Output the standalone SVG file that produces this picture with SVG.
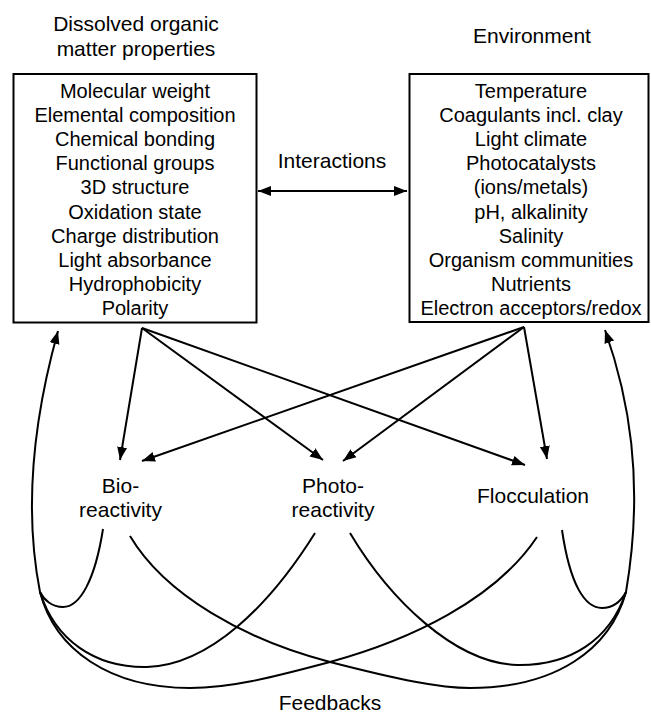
<svg xmlns="http://www.w3.org/2000/svg" width="651" height="713" viewBox="0 0 651 713">
<style>
text{font-family:"Liberation Sans",Arial,sans-serif;fill:#000;text-anchor:middle}
.bt{font-size:20px}
.lb{font-size:21px}
.box{fill:#fff;stroke:#000;stroke-width:2}
.ln{fill:none;stroke:#000;stroke-width:2}
</style>
<defs>
<marker id="ah" markerUnits="userSpaceOnUse" markerWidth="14" markerHeight="12" refX="13" refY="5" orient="auto-start-reverse" viewBox="0 0 14 10">
<path d="M0,0 L13,5 L0,10 z" fill="#000"/>
</marker>
</defs>
<rect width="651" height="713" fill="#fff"/>
<g id="dom">
<text class="lb" x="136" y="31">Dissolved organic</text>
<text class="lb" x="136" y="56">matter properties</text>
<rect class="box" x="13.5" y="74" width="243" height="248.5"/>
<text class="bt" x="135" y="98">Molecular weight</text>
<text class="bt" x="135" y="122">Elemental composition</text>
<text class="bt" x="135" y="146">Chemical bonding</text>
<text class="bt" x="135" y="170">Functional groups</text>
<text class="bt" x="135" y="194">3D structure</text>
<text class="bt" x="135" y="218.5">Oxidation state</text>
<text class="bt" x="135" y="243">Charge distribution</text>
<text class="bt" x="135" y="267">Light absorbance</text>
<text class="bt" x="135" y="291">Hydrophobicity</text>
<text class="bt" x="135" y="315">Polarity</text>
</g>
<g id="env">
<text class="lb" x="532" y="43">Environment</text>
<rect class="box" x="409.5" y="74" width="239" height="248"/>
<text class="bt" x="531" y="98">Temperature</text>
<text class="bt" x="531" y="122">Coagulants incl. clay</text>
<text class="bt" x="531" y="146">Light climate</text>
<text class="bt" x="531" y="170">Photocatalysts</text>
<text class="bt" x="531" y="194">(ions/metals)</text>
<text class="bt" x="531" y="218.5">pH, alkalinity</text>
<text class="bt" x="531" y="243">Salinity</text>
<text class="bt" x="531" y="267">Organism communities</text>
<text class="bt" x="531" y="291">Nutrients</text>
<text class="bt" x="531" y="315">Electron acceptors/redox</text>
</g>
<g id="interactions">
<text class="lb" x="332" y="168">Interactions</text>
</g>
<g id="bio">
<text class="lb" x="120.5" y="493">Bio-</text>
<text class="lb" x="120.5" y="517">reactivity</text>
</g>
<g id="photo">
<text class="lb" x="333" y="493">Photo-</text>
<text class="lb" x="333" y="517">reactivity</text>
</g>
<g id="flocc">
<text class="lb" x="533" y="503">Flocculation</text>
</g>
<g id="feedbacks">
<text class="lb" x="330" y="710">Feedbacks</text>
</g>
<g id="connectors">
<line class="ln" x1="258" y1="191" x2="407" y2="191" marker-start="url(#ah)" marker-end="url(#ah)"/>
<line class="ln" x1="142" y1="328" x2="120" y2="460" marker-end="url(#ah)"/>
<line class="ln" x1="142" y1="328" x2="323" y2="460" marker-end="url(#ah)"/>
<line class="ln" x1="142" y1="328" x2="525" y2="465" marker-end="url(#ah)"/>
<line class="ln" x1="524" y1="327" x2="142" y2="461" marker-end="url(#ah)"/>
<line class="ln" x1="524" y1="327" x2="343" y2="461" marker-end="url(#ah)"/>
<line class="ln" x1="524" y1="327" x2="547" y2="459" marker-end="url(#ah)"/>
<path class="ln" d="M40,592 C22,500 36,410 58,331" marker-end="url(#ah)"/>
<path class="ln" d="M626,592 C645,480 628,395 605,330" marker-end="url(#ah)"/>
<path class="ln" d="M103,529 C95,580 80,607 63,607 C52,607 44,600 40,592"/>
<path class="ln" d="M315,533 C270,605 210,665 147,667 C95,668 55,640 40,592"/>
<path class="ln" d="M537,537 C495,600 410,640 330,662 C270,678 230,688 190,688 C110,688 55,650 40,592"/>
<path class="ln" d="M130,536 C165,595 245,640 330,662 C400,680 440,688 470,688 C555,688 610,650 626,592"/>
<path class="ln" d="M350,533 C390,600 455,663 517,665 C570,666 610,640 626,592"/>
<path class="ln" d="M562,530 C570,585 585,608 602,608 C612,608 620,603 626,592"/>
</g>
</svg>
